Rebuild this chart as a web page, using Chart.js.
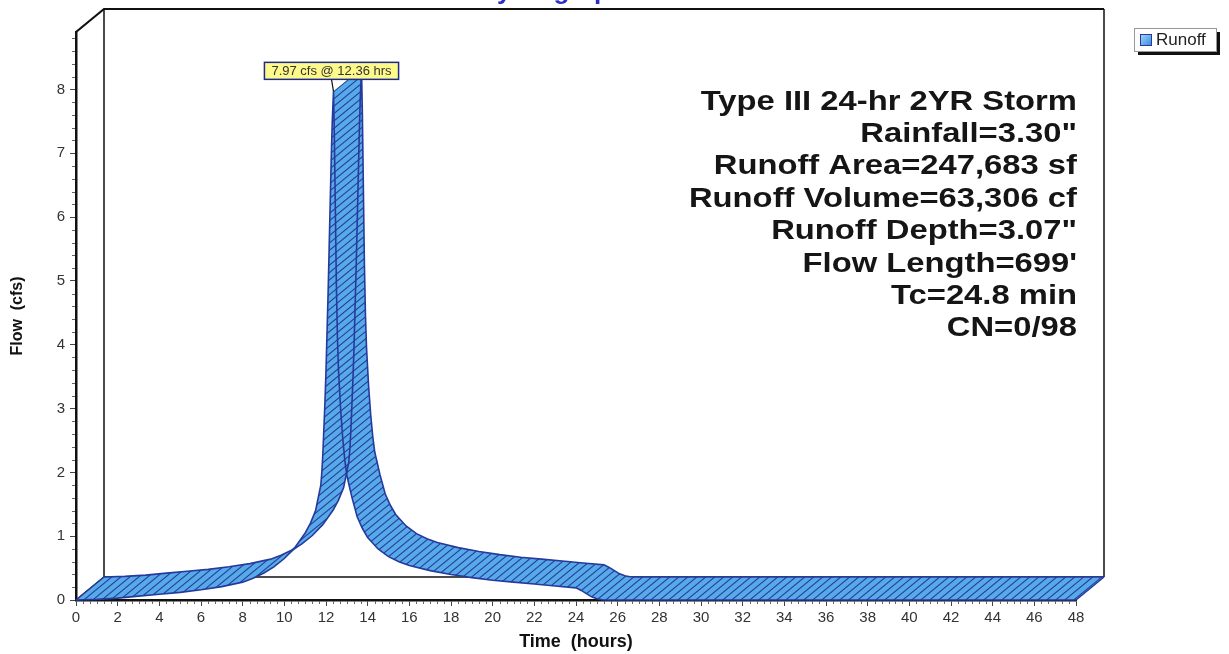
<!DOCTYPE html>
<html>
<head>
<meta charset="utf-8">
<title>Hydrograph</title>
<script src="https://cdn.jsdelivr.net/npm/chart.js@4.4.0/dist/chart.umd.min.js"></script>
<style>
  html, body { margin: 0; padding: 0; background: #fff; }
  #wrap { width: 1229px; height: 654px; position: relative; }
</style>
</head>
<body>
<div id="wrap"><canvas id="hydro" width="1229" height="654"></canvas></div>
<script>
// runoff hydrograph
const hours = [0, 1, 2, 3, 4, 5, 6, 7, 8, 8.5, 9, 9.5, 10, 10.5, 11, 11.25, 11.5, 11.75, 11.8, 11.85, 11.9, 11.95,
  12.0, 12.05, 12.1, 12.15, 12.2, 12.25, 12.3, 12.36, 12.4, 12.45, 12.5, 12.55, 12.6, 12.7, 12.8, 12.9,
  13.0, 13.25, 13.5, 13.75, 14.0, 14.5, 15, 15.5, 16, 17, 18, 19, 20, 21, 22, 23, 24,
  24.25, 24.5, 24.75, 25, 25.25, 25.5, 30, 36, 42, 48]
const flow = [0, 0.01, 0.03, 0.06, 0.09, 0.12, 0.16, 0.21, 0.28, 0.34, 0.42, 0.52, 0.65, 0.82, 1.05, 1.2, 1.4, 1.8, 2.0, 2.3, 2.7, 3.1,
  3.6, 4.2, 4.8, 5.5, 6.2, 6.9, 7.5, 7.97, 7.3, 6.1, 4.9, 4.1, 3.6, 3.0, 2.55, 2.2,
  1.95, 1.6, 1.3, 1.12, 0.98, 0.8, 0.68, 0.6, 0.54, 0.46, 0.4, 0.35, 0.31, 0.28, 0.25, 0.22, 0.19,
  0.15, 0.1, 0.05, 0.02, 0.005, 0, 0, 0, 0, 0]

const timeTicks = [0, 2, 4, 6, 8, 10, 12, 14, 16, 18, 20, 22, 24, 26, 28, 30, 32, 34, 36, 38, 40, 42, 44, 46, 48]
const flowTicks = [0, 1, 2, 3, 4, 5, 6, 7, 8]

const peakTime = 12.36
const peakFlow = 7.97
const peakText = '7.97 cfs @ 12.36 hrs'

const stormInfo = [
  'Type III 24-hr 2YR Storm',
  'Rainfall=3.30"',
  'Runoff Area=247,683 sf',
  'Runoff Volume=63,306 cf',
  'Runoff Depth=3.07"',
  "Flow Length=699'",
  'Tc=24.8 min',
  'CN=0/98'
]

// geometry of the fake 3-D box
const W = 1229, H = 654
const PLOT = { left: 76, top: 32, right: 1076, bottom: 600 }
const X_MAX = 48, Y_MAX = 8.9
const DX = 28, DY = 23
const xShift = DX * X_MAX / (PLOT.right - PLOT.left)
const yShift = DY * Y_MAX / (PLOT.bottom - PLOT.top)

const FILL = 'rgb(86,170,234)'
const EDGE = 'rgb(38,58,158)'
const HATCH = 'rgb(40,62,150)'
const FONT = '"Liberation Sans", Arial, sans-serif'

Chart.defaults.font.family = FONT

const ribbon = {
  id: 'ribbon',
  beforeDatasetsDraw(chart) {
    const { ctx } = chart
    const { x, y, x2, y2 } = chart.scales
    const bl = x2.getPixelForValue(0), br = x2.getPixelForValue(X_MAX)
    const bt = y2.getPixelForValue(Y_MAX), bb = y2.getPixelForValue(0)

    // back wall
    ctx.save()
    ctx.strokeStyle = '#111'
    ctx.lineWidth = 1.5
    ctx.beginPath()
    ctx.moveTo(bl, bb); ctx.lineTo(br, bb)
    ctx.moveTo(bl, bb); ctx.lineTo(bl, bt)
    ctx.moveTo(br, bb); ctx.lineTo(br, bt)
    ctx.moveTo(x.getPixelForValue(0), y.getPixelForValue(0)); ctx.lineTo(bl, bb)
    ctx.stroke()
    ctx.lineWidth = 2.2
    ctx.beginPath()
    ctx.moveTo(x.getPixelForValue(0), y.getPixelForValue(Y_MAX))
    ctx.lineTo(bl, bt); ctx.lineTo(br, bt)
    ctx.stroke()

    // ribbon body: one parallelogram per segment
    const f = chart.getDatasetMeta(0).data
    const b = chart.getDatasetMeta(1).data
    ctx.beginPath()
    for (let i = 0; i < f.length - 1; i++) {
      let q = [f[i], f[i + 1], b[i + 1], b[i]]
      let a = 0
      for (let j = 0; j < 4; j++) {
        const p = q[j], n = q[(j + 1) % 4]
        a += p.x * n.y - n.x * p.y
      }
      if (a < 0) q = q.reverse()
      ctx.moveTo(q[0].x, q[0].y)
      for (let j = 1; j < 4; j++) ctx.lineTo(q[j].x, q[j].y)
      ctx.closePath()
    }
    ctx.fillStyle = FILL
    ctx.fill()
    ctx.clip()
    ctx.strokeStyle = HATCH
    ctx.lineWidth = 1.1
    ctx.beginPath()
    for (let x0 = -900; x0 < W + 100; x0 += 9) {
      ctx.moveTo(x0, H)
      ctx.lineTo(x0 + H * DX / DY, 0)
    }
    ctx.stroke()
    ctx.restore()
  },
  afterDatasetsDraw(chart) {
    const { ctx } = chart
    const f = chart.getDatasetMeta(0).data
    const b = chart.getDatasetMeta(1).data
    const n = f.length - 1
    ctx.save()
    ctx.strokeStyle = EDGE
    ctx.lineWidth = 1.6
    ctx.beginPath()
    ctx.moveTo(f[0].x, f[0].y); ctx.lineTo(b[0].x, b[0].y)
    ctx.moveTo(f[n].x, f[n].y); ctx.lineTo(b[n].x, b[n].y)
    ctx.stroke()
    ctx.restore()
  },
  afterDraw(chart) {
    const { ctx } = chart
    const { x, y } = chart.scales
    ctx.save()

    // minor ticks
    ctx.strokeStyle = '#666'
    ctx.lineWidth = 1
    ctx.beginPath()
    for (let k = 1; k < X_MAX * 3; k++) {
      if (k % 6 === 0) continue
      const px = Math.round(x.getPixelForValue(k / 3)) + 0.5
      ctx.moveTo(px, PLOT.bottom + 1); ctx.lineTo(px, PLOT.bottom + 4)
    }
    for (let k = 1; k * 0.2 < Y_MAX; k++) {
      if (k % 5 === 0) continue
      const py = Math.round(y.getPixelForValue(k * 0.2)) + 0.5
      ctx.moveTo(PLOT.left - 1, py); ctx.lineTo(PLOT.left - 4, py)
    }
    ctx.stroke()

    // storm summary, wide bold type
    ctx.fillStyle = '#151515'
    ctx.font = 'bold 28px ' + FONT
    ctx.textAlign = 'right'
    ctx.textBaseline = 'alphabetic'
    stormInfo.forEach((t, i) => {
      ctx.save()
      ctx.translate(1077, 109.5 + i * 32.4)
      ctx.scale(1.17, 1)
      ctx.fillText(t, 0, 0)
      ctx.restore()
    })

    // peak label
    const px = x.getPixelForValue(peakTime), py = y.getPixelForValue(peakFlow)
    ctx.font = '13px ' + FONT
    const tw = ctx.measureText(peakText).width
    const bw = tw + 14, bh = 17
    const bx = px - 2 - bw / 2, by = py - 12 - bh
    ctx.strokeStyle = '#111'
    ctx.lineWidth = 1.2
    ctx.beginPath()
    ctx.moveTo(px - 2, by + bh); ctx.lineTo(px, py)
    ctx.stroke()
    ctx.fillStyle = '#fdf98a'
    ctx.fillRect(bx, by, bw, bh)
    ctx.strokeStyle = '#1c2a8c'
    ctx.lineWidth = 1.5
    ctx.strokeRect(bx, by, bw, bh)
    ctx.fillStyle = '#333'
    ctx.textAlign = 'center'
    ctx.textBaseline = 'middle'
    ctx.fillText(peakText, bx + bw / 2, by + bh / 2 + 1)

    // legend
    const lx = 1134, ly = 28, lw = 82, lh = 23
    ctx.fillStyle = '#111'
    ctx.fillRect(lx + 4, ly + 4, lw, lh)
    ctx.fillStyle = '#fff'
    ctx.fillRect(lx, ly, lw, lh)
    ctx.strokeStyle = '#999'
    ctx.lineWidth = 1
    ctx.strokeRect(lx + 0.5, ly + 0.5, lw, lh)
    const g = ctx.createLinearGradient(lx + 6, ly + 6, lx + 18, ly + 18)
    g.addColorStop(0, '#a8d8fb')
    g.addColorStop(1, '#2f88de')
    ctx.fillStyle = g
    ctx.fillRect(lx + 6, ly + 6, 12, 12)
    ctx.strokeStyle = EDGE
    ctx.strokeRect(lx + 6.5, ly + 6.5, 11, 11)
    ctx.fillStyle = '#222'
    ctx.font = '17px ' + FONT
    ctx.textAlign = 'left'
    ctx.textBaseline = 'middle'
    ctx.fillText('Runoff', lx + 22, ly + lh / 2 + 1)

    // chart title, mostly cut off by the top edge
    ctx.fillStyle = '#2c2cc4'
    ctx.font = 'bold 26px ' + FONT
    ctx.textAlign = 'center'
    ctx.textBaseline = 'alphabetic'
    ctx.fillText('Hydrograph', 552, -1)
    ctx.restore()
  }
}

const pts = hours.map((h, i) => ({ x: h, y: flow[i] }))

new Chart(document.getElementById('hydro'), {
  type: 'line',
  data: {
    datasets: [
      { label: 'Runoff', data: pts, xAxisID: 'x', yAxisID: 'y',
        borderColor: EDGE, borderWidth: 1.6, pointRadius: 0, fill: false, tension: 0, clip: false },
      { label: 'Runoff back', data: pts, xAxisID: 'x2', yAxisID: 'y2',
        borderColor: EDGE, borderWidth: 1.6, pointRadius: 0, fill: false, tension: 0, clip: false }
    ]
  },
  options: {
    responsive: false,
    animation: false,
    devicePixelRatio: 1,
    layout: { padding: { left: 0, top: PLOT.top, right: W - PLOT.right, bottom: 0 } },
    plugins: { legend: { display: false }, tooltip: { enabled: false } },
    scales: {
      x: {
        type: 'linear', min: 0, max: X_MAX,
        afterBuildTicks: s => { s.ticks = timeTicks.map(v => ({ value: v })) },
        afterFit: s => { s.height = H - PLOT.bottom },
        grid: { drawOnChartArea: false, drawTicks: true, tickLength: 6, tickColor: '#444' },
        border: { display: true, color: '#111', width: 2.5 },
        ticks: { autoSkip: false, maxRotation: 0, color: '#333', font: { size: 15 }, padding: 3 },
        title: { display: true, text: 'Time  (hours)', color: '#111',
          font: { size: 18, weight: 'bold' }, padding: { top: 0, bottom: 1 } }
      },
      y: {
        type: 'linear', min: 0, max: Y_MAX,
        afterBuildTicks: s => { s.ticks = flowTicks.map(v => ({ value: v })) },
        afterFit: s => { s.width = PLOT.left },
        grid: { drawOnChartArea: false, drawTicks: true, tickLength: 6, tickColor: '#444' },
        border: { display: true, color: '#111', width: 2.5 },
        ticks: { color: '#333', font: { size: 15 }, padding: 5 },
        title: { display: true, text: 'Flow  (cfs)', color: '#111',
          font: { size: 16, weight: 'bold' }, padding: { top: 8, bottom: 0 } }
      },
      x2: { type: 'linear', display: false, min: -xShift, max: X_MAX - xShift },
      y2: { type: 'linear', display: false, min: -yShift, max: Y_MAX - yShift }
    }
  },
  plugins: [ribbon]
})
</script>
</body>
</html>
